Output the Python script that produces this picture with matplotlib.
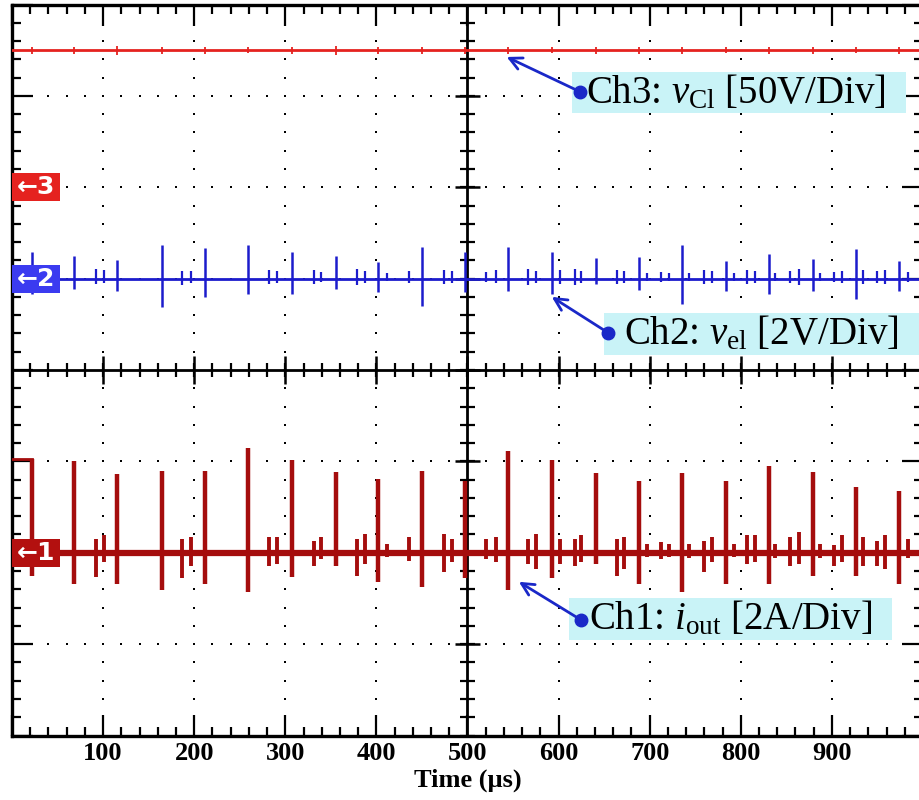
import numpy as np
import matplotlib
matplotlib.use('Agg')
import matplotlib.pyplot as plt
from matplotlib.patches import Rectangle
from matplotlib.transforms import blended_transform_factory

plt.rcParams['mathtext.fontset'] = 'custom'
plt.rcParams['mathtext.rm'] = 'Liberation Serif'
plt.rcParams['mathtext.it'] = 'Liberation Serif:italic'
plt.rcParams['mathtext.bf'] = 'Liberation Serif:bold'

# ---------------- data (time in us, amplitude in divisions) ----------------
x_ticks = [0, 100, 200, 300, 400, 500, 600, 700, 800, 900, 1000]
x_tick_labels = ['', '100', '200', '300', '400', '500', '600', '700', '800', '900', '']

ch3_level = 3.5
ch2_level = 1.0
ch1_level = -2.0
ch1_start_level = -0.97

# Ch1 (i_out) main spikes
ch1_t = [22.1, 68.3, 115.3, 164.2, 211.5, 258.8, 307.3, 355.4, 401.6, 450.0, 497.5,
         544.8, 593.2, 641.3, 688.0, 736.0, 784.2, 830.8, 879.2, 926.6, 974.0]
ch1_hi = [-0.97, -1.00, -1.14, -1.10, -1.11, -0.85, -0.99, -1.12, -1.19, -1.10, -1.22,
          -0.89, -0.98, -1.13, -1.21, -1.13, -1.21, -1.05, -1.12, -1.28, -1.32]
ch1_lo = [-2.25, -2.34, -2.34, -2.41, -2.34, -2.43, -2.26, -2.14, -2.32, -2.37, -2.28,
          -2.41, -2.28, -2.12, -2.34, -2.43, -2.34, -2.34, -2.25, -2.25, -2.34]
# Ch1 small ringing spikes
ch1_st = [92.0, 101.0, 187.1, 197.0, 282.5, 291.3, 331.0, 339.0, 379.0, 387.4, 411.5,
          435.5, 473.8, 482.5, 520.8, 531.7, 566.7, 575.4, 601.3, 617.7, 624.9, 664.3,
          672.3, 697.0, 712.3, 721.5, 743.4, 759.8, 768.9, 792.6, 807.1, 815.5, 838.0,
          854.4, 863.6, 887.2, 901.9, 910.9, 934.6, 950.0, 958.3, 983.8]
ch1_shi = [-1.85, -1.81, -1.85, -1.83, -1.83, -1.83, -1.87, -1.83, -1.85, -1.79, -1.90,
           -1.83, -1.79, -1.85, -1.85, -1.83, -1.85, -1.79, -1.85, -1.85, -1.81, -1.85,
           -1.83, -1.90, -1.88, -1.90, -1.90, -1.87, -1.83, -1.90, -1.81, -1.81, -1.90,
           -1.83, -1.77, -1.90, -1.92, -1.81, -1.83, -1.87, -1.81, -1.85]
ch1_slo = [-2.26, -2.10, -2.28, -2.15, -2.15, -2.12, -2.15, -2.07, -2.25, -2.12, -2.05,
           -2.09, -2.21, -2.10, -2.07, -2.10, -2.12, -2.18, -2.12, -2.15, -2.10, -2.25,
           -2.18, -2.05, -2.07, -2.05, -2.06, -2.21, -2.10, -2.05, -2.12, -2.10, -2.06,
           -2.15, -2.12, -2.06, -2.15, -2.10, -2.15, -2.15, -2.18, -2.06]

# Ch2 (v_el) spikes
ch2_t = ch1_t
ch2_hi = [1.29, 1.25, 1.20, 1.37, 1.33, 1.37, 1.29, 1.25, 1.18, 1.35, 1.29,
          1.35, 1.29, 1.23, 1.24, 1.37, 1.19, 1.27, 1.21, 1.32, 1.19]
ch2_lo = [0.83, 0.89, 0.87, 0.69, 0.80, 0.83, 0.83, 0.89, 0.85, 0.70, 0.85,
          0.87, 0.83, 0.94, 0.88, 0.72, 0.86, 0.83, 0.87, 0.78, 0.86]
ch2_st = ch1_st
ch2_shi = [1.10, 1.09, 1.08, 1.08, 1.09, 1.08, 1.09, 1.07, 1.10, 1.08, 1.06,
           1.08, 1.09, 1.08, 1.07, 1.09, 1.10, 1.08, 1.09, 1.10, 1.08, 1.09,
           1.08, 1.06, 1.07, 1.06, 1.06, 1.09, 1.08, 1.06, 1.09, 1.08, 1.06,
           1.08, 1.10, 1.06, 1.07, 1.08, 1.09, 1.08, 1.09, 1.07]
ch2_slo = [0.94, 0.95, 0.93, 0.95, 0.94, 0.95, 0.94, 0.96, 0.93, 0.95, 0.97,
           0.95, 0.94, 0.95, 0.96, 0.95, 0.93, 0.95, 0.94, 0.93, 0.95, 0.94,
           0.95, 0.97, 0.96, 0.97, 0.97, 0.94, 0.95, 0.97, 0.94, 0.95, 0.97,
           0.95, 0.93, 0.97, 0.96, 0.95, 0.94, 0.95, 0.94, 0.96]

# Ch3 (v_C1) small ripple marks
ch3_t = ch1_t
ch3_hi = [3.54, 3.54, 3.55, 3.54, 3.54, 3.53, 3.54, 3.55, 3.54, 3.54, 3.54,
          3.54, 3.53, 3.54, 3.54, 3.54, 3.53, 3.54, 3.54, 3.53, 3.54]
ch3_lo = [3.46, 3.46, 3.45, 3.46, 3.46, 3.47, 3.46, 3.45, 3.46, 3.46, 3.46,
          3.46, 3.47, 3.46, 3.46, 3.46, 3.47, 3.46, 3.46, 3.47, 3.46]

labels = [r'Ch3: $\mathit{v}_{\mathrm{Cl}}$ [50V/Div]',
          r'Ch2: $\mathit{v}_{\mathrm{el}}$ [2V/Div]',
          r'Ch1: $\mathit{i}_{\mathrm{out}}$ [2A/Div]']

# ---------------- style ----------------
c1 = '#a50d0d'
c2 = '#1c1ccc'
c3 = '#e5221f'
c2box = '#3b3bf0'
c3box = '#e5221f'
c1box = '#b3100f'
cyan = '#c9f3f7'
arrow_c = '#1a28c8'
serif = 'Liberation Serif'

fig = plt.figure(figsize=(9.2, 8), dpi=100)
ax = fig.add_axes([12 / 920, 64.5 / 800, 911 / 920, 731 / 800])
ax.set_xlim(0, 1000)
ax.set_ylim(-4, 4)

for s in ax.spines.values():
    s.set_linewidth(2.4)
    s.set_color('black')

ax.set_xticks(x_ticks)
ax.set_xticklabels(x_tick_labels)
ax.set_xticks(np.arange(0, 1001, 20), minor=True)
ax.set_yticks(np.arange(-4, 5, 1))
ax.set_yticks(np.arange(-4, 4.01, 0.2), minor=True)
ax.tick_params(which='both', direction='in', top=True, right=True, labelleft=False,
               width=1.6, color='black')
ax.tick_params(which='major', length=15, pad=5)
ax.tick_params(which='minor', length=6.5)
for lab in ax.get_xticklabels():
    lab.set_fontfamily(serif)
    lab.set_fontweight('bold')
    lab.set_fontsize(19)
ax.set_xlabel('Time (µs)', fontfamily=serif, fontweight='bold', fontsize=19, labelpad=2)

# dotted grid
gx = [100, 200, 300, 400, 600, 700, 800, 900]
gy = [-3, -2, -1, 1, 2, 3]
dy = np.arange(-4, 4.01, 0.2)
dx = np.arange(0, 1001, 20)
for g in gx:
    ax.scatter(np.full(dy.size, g), dy, s=4, marker='s', color='black', lw=0, zorder=1)
for g in gy:
    ax.scatter(dx, np.full(dx.size, g), s=4, marker='s', color='black', lw=0, zorder=1)

# center cross with ticks
ax.axvline(500, color='black', lw=2, zorder=1.5)
ax.axhline(0, color='black', lw=2, zorder=1.5)
ax.hlines(dy, 500 - 8, 500 + 8, color='black', lw=1.6, zorder=1.5)
ax.hlines(np.arange(-4, 5, 1), 500 - 14, 500 + 14, color='black', lw=1.8, zorder=1.5)
ax.vlines(dx, -0.08, 0.08, color='black', lw=1.6, zorder=1.5)
ax.vlines(np.arange(0, 1001, 100), -0.15, 0.15, color='black', lw=1.8, zorder=1.5)

# ---- traces ----
# Ch3
ax.plot([0, 1000], [ch3_level, ch3_level], color=c3, lw=2.0, zorder=3)
ax.vlines(ch3_t, ch3_lo, ch3_hi, color=c3, lw=1.3, zorder=3)
# Ch2
ax.plot([0, 1000], [ch2_level, ch2_level], color=c2, lw=2.0, zorder=3)
ax.vlines(ch2_st, ch2_slo, ch2_shi, color=c2, lw=1.6, zorder=3)
ax.vlines(ch2_t, ch2_lo, ch2_hi, color=c2, lw=1.8, zorder=3)
# Ch1
ax.plot([0, ch1_t[0]], [ch1_start_level, ch1_start_level], color=c1, lw=2.0, zorder=3)
ax.plot([ch1_t[0], 1000], [ch1_level, ch1_level], color=c1, lw=4.5, zorder=3)
ax.vlines(ch1_st, ch1_slo, ch1_shi, color=c1, lw=2.8, zorder=3)
ax.vlines(ch1_t, ch1_lo, ch1_hi, color=c1, lw=3.2, zorder=3)

# ---- channel ground markers ----
btr = blended_transform_factory(ax.transAxes, ax.transData)
bw = 48 / 911
bh = 28 / 91.4
for lvl, txt, col in [(2.0, '←3', c3box), (1.0, '←2', c2box), (-2.0, '←1', c1box)]:
    ax.add_patch(Rectangle((0.0, lvl - bh / 2), bw, bh, transform=btr, fc=col,
                           ec='none', zorder=5, clip_on=False))
    ax.text(bw / 2, lvl, txt, transform=btr, ha='center', va='center', color='white',
            fontsize=18, fontweight='bold', zorder=6)

# ---- annotations ----
ann = [
    # box x0, x1, y0, y1, dot x, dot y, head x, head y, text x
    (614.5, 981.0, 2.813, 3.261, 624.0, 3.043, 543.0, 3.426, 630.0),
    (649.6, 1000.0, 0.165, 0.625, 654.6, 0.406, 592.5, 0.80, 672.0),
    (611.2, 965.7, -2.953, -2.493, 624.4, -2.734, 556.4, -2.318, 633.0),
]
for (x0, x1, y0, y1, px, py, hx, hy, tx), lab in zip(ann, labels):
    ax.add_patch(Rectangle((x0, y0), x1 - x0, y1 - y0, fc=cyan, ec='none', zorder=6))
    ax.annotate('', xy=(hx, hy), xytext=(px, py),
                arrowprops=dict(arrowstyle='->', color=arrow_c, lw=2.0,
                                mutation_scale=22, shrinkA=0, shrinkB=0), zorder=7)
    ax.plot([px], [py], 'o', color=arrow_c, ms=9, zorder=8)
    ax.text(tx, (y0 + y1) / 2, lab, fontfamily=serif, fontsize=28, ha='left',
            va='center', color='black', zorder=8)

fig.savefig('out.png', dpi=100)
